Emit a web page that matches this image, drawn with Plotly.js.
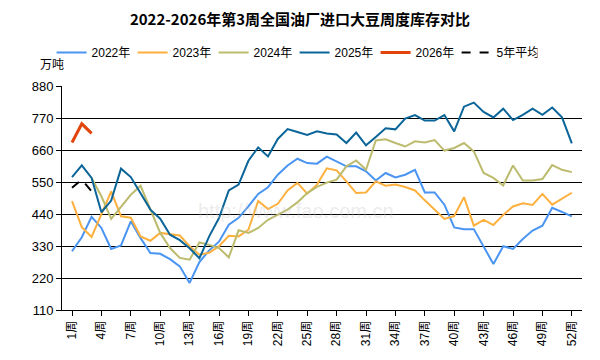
<!DOCTYPE html>
<html><head><meta charset="utf-8">
<script src="https://cdn.plot.ly/plotly-3.0.1.min.js"></script>
<style>html,body{margin:0;padding:0;background:#fff;}#chart{width:600px;height:360px;}</style>
</head><body><div id="chart"></div>
<script>
const weeks = Array.from({length: 52}, (_, i) => i + 1);
const tickWeeks = [1,4,7,10,13,16,19,22,25,28,31,34,37,40,43,46,49,52];
const tickLabels = tickWeeks.map(w => w + '周');

const y2022 = [312,360,430,392,320,332,415,357,306,303,285,260,203,275,315,345,403,427,466,509,532,575,607,630,615,613,637,621,604,604,587,555,581,566,575,592,514,514,472,394,388,388,329,268,329,320,354,383,400,461,447,432];
const y2023 = [484,395,361,438,518,432,427,363,348,375,371,366,329,300,307,329,365,363,386,485,457,475,521,547,510,541,597,590,552,512,514,552,537,541,533,521,487,455,423,433,498,400,420,402,437,466,477,471,509,472,493,513];
const y2024 = [null,null,564,501,423,466,506,537,455,375,323,289,283,342,334,323,291,384,375,392,420,437,455,480,512,533,548,558,604,624,592,693,697,684,672,690,686,694,658,667,684,655,581,564,538,607,555,555,560,608,592,584];
const y2025 = [567,607,564,446,486,596,567,512,455,424,369,350,322,288,363,426,521,541,623,669,638,698,732,722,712,724,717,713,684,720,676,705,735,731,768,780,761,761,780,724,809,823,791,772,802,763,781,802,781,806,772,683];
const y2026 = [686,750,717];
const yAvg = [530,558,518];

const seriesNames = ['2022年','2023年','2024年','2025年','2026年','5年平均'];
const font = '"Liberation Sans", Arial, "Noto Sans CJK SC", sans-serif';

function tr(y, name, color, width, dash) {
  return {x: weeks.slice(0, y.length), y: y, name: name, type: 'scatter', mode: 'lines',
    line: {color: color, width: width, dash: dash || 'solid'}, connectgaps: false};
}

const data = [
  tr(y2022, seriesNames[0], '#4a94f2', 2),
  tr(y2023, seriesNames[1], '#fdb03e', 2),
  tr(y2024, seriesNames[2], '#bcbb6e', 2),
  tr(y2025, seriesNames[3], '#0b6598', 2),
  tr(y2026, seriesNames[4], '#e3440c', 3),
  tr(yAvg, seriesNames[5], '#000000', 2, 'dash')
];

const layout = {
  width: 600, height: 360,
  margin: {l: 62, r: 18, t: 86, b: 50},
  paper_bgcolor: '#fff', plot_bgcolor: '#fff',
  font: {family: font, size: 12, color: '#000'},
  title: {text: '<b>2022-2026年第3周全国油厂进口大豆周度库存对比</b>', x: 0.5, xanchor: 'center', y: 0.945, yanchor: 'middle',
    font: {family: '"Noto Sans CJK SC", sans-serif', size: 15, color: '#000'}},
  showlegend: true,
  legend: {orientation: 'h', x: -0.02, xanchor: 'left', y: 1.15, yanchor: 'middle',
    font: {family: font, size: 12, color: '#000'}, itemwidth: 30, tracegroupgap: 0,
    entrywidth: 36, entrywidthmode: 'pixels', bgcolor: 'rgba(0,0,0,0)'},
  xaxis: {range: [-0.02, 53.04], tickvals: tickWeeks, ticktext: tickLabels, tickangle: -90,
    showgrid: false, zeroline: false, showline: true, linecolor: '#000', linewidth: 1,
    ticks: 'outside', ticklen: 5, tickcolor: '#000', tickfont: {family: font, size: 12, color: '#000'}, fixedrange: true},
  yaxis: {range: [110, 880], tickvals: [110,220,330,440,550,660,770,880], showgrid: true, gridcolor: '#000', gridwidth: 1,
    zeroline: false, showline: true, linecolor: '#000', linewidth: 1, ticks: 'outside', ticklen: 5, tickcolor: '#000',
    tickfont: {family: font, size: 13, color: '#000'}, fixedrange: true},
  annotations: [
    {text: '万吨', xref: 'paper', yref: 'paper', x: -0.02, y: 1.1, xanchor: 'center', yanchor: 'middle', showarrow: false,
      font: {family: '"Noto Sans CJK SC", sans-serif', size: 12, color: '#000'}},
    {text: 'http://www.fao.com.cn', xref: 'paper', yref: 'paper', x: 0.45, y: 0.44, xanchor: 'center', yanchor: 'middle', showarrow: false,
      font: {family: font, size: 20, color: 'rgba(200,200,200,0.35)'}}
  ]
};

Plotly.newPlot('chart', data, layout, {displayModeBar: false, staticPlot: true});
</script></body></html>
